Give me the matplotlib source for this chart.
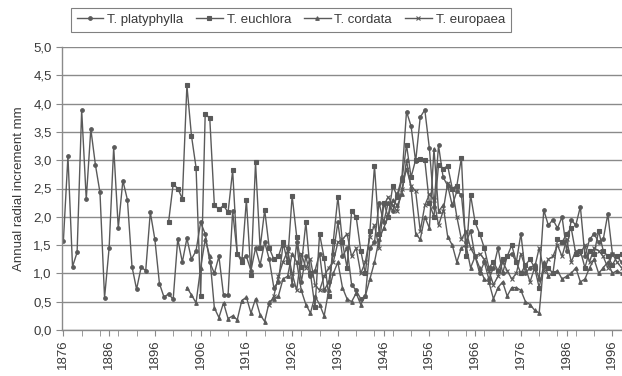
import numpy as np
import matplotlib
matplotlib.use("Agg")
import matplotlib.pyplot as plt
from matplotlib.ticker import FuncFormatter, MultipleLocator

plt.rcParams['font.family'] = ['Liberation Sans', 'DejaVu Sans']

years = list(range(1876, 1999))

# annual radial increment (mm), first year of each record given separately
platyphylla_start = 1876
platyphylla = [
    1.57, 3.07, 1.12, 1.37, 3.89, 2.31, 3.55, 2.92, 2.43, 0.57,
    1.45, 3.23, 1.80, 2.64, 2.30, 1.12, 0.72, 1.11, 1.05, 2.08,
    1.60, 0.82, 0.58, 0.64, 0.54, 1.61, 1.20, 1.62, 1.25, 1.40,
    1.90, 1.70, 1.20, 1.00, 1.30, 0.62, 0.62, 2.10, 1.35, 1.25,
    1.30, 1.05, 1.45, 1.15, 1.55, 1.25, 0.75, 0.85, 1.50, 1.45,
    0.80, 1.55, 0.85, 1.30, 0.95, 1.05, 1.35, 0.70, 0.85, 1.35,
    1.90, 1.30, 1.45, 0.80, 0.70, 0.55, 0.60, 1.45, 1.55, 2.25,
    1.90, 2.25, 2.10, 2.40, 2.70, 3.86, 3.60, 2.98, 3.76, 3.89,
    3.21, 2.18, 3.26, 2.70, 2.55, 2.20, 2.45, 2.39, 1.55, 1.75,
    1.30, 1.00, 1.20, 0.90, 1.10, 1.45, 1.00, 1.30, 1.35, 1.20,
    1.70, 1.00, 1.10, 1.15, 0.90, 2.12, 1.85, 1.95, 1.80, 2.00,
    1.40, 1.95, 1.85, 2.18, 1.30, 1.60, 1.70, 1.55, 1.60, 2.05,
    1.35, 1.30, 1.20,
]

euchlora_start = 1899
euchlora = [
    1.91, 2.58, 2.50, 2.32, 4.32, 3.43, 2.87, 0.60, 3.82, 3.74,
    2.21, 2.13, 2.20, 2.08, 2.82, 1.35, 1.20, 2.30, 0.98, 2.96,
    1.45, 2.12, 1.45, 1.25, 1.30, 1.55, 1.20, 2.37, 1.65, 1.12,
    1.90, 1.00, 0.40, 1.70, 1.27, 0.60, 1.57, 2.35, 1.55, 1.10,
    2.10, 2.00, 1.40, 1.00, 1.75, 2.90, 1.70, 2.25, 2.00, 2.55,
    2.35, 2.65, 3.27, 2.70, 3.01, 3.02, 3.00, 2.24, 2.00, 2.92,
    2.85, 2.90, 2.50, 2.55, 3.04, 1.30, 2.39, 1.90, 1.70, 1.45,
    1.10, 1.20, 1.05, 1.25, 1.30, 1.50, 1.20, 1.00, 1.15, 1.25,
    1.10, 0.75, 1.15, 1.10, 1.00, 1.60, 1.55, 1.70, 1.80, 1.35,
    1.40, 1.10, 1.40, 1.35, 1.75, 1.40, 1.30, 1.15, 1.30, 1.35,
]

cordata_start = 1903
cordata = [
    0.75, 0.62, 0.48, 1.10, 1.60, 1.30, 0.39, 0.22, 0.48, 0.20,
    0.25, 0.18, 0.52, 0.58, 0.30, 0.55, 0.27, 0.15, 0.50, 0.55,
    0.60, 0.90, 0.95, 1.35, 1.20, 0.70, 0.45, 0.30, 0.60, 0.45,
    0.25, 0.70, 1.00, 1.20, 0.75, 0.55, 0.50, 0.65, 0.45, 0.60,
    0.90, 1.20, 1.60, 1.80, 2.00, 2.30, 2.20, 2.40, 3.00, 2.50,
    1.70, 1.60, 2.00, 1.80, 3.20, 2.10, 2.20, 1.65, 1.50, 1.20,
    1.45, 1.50, 1.10, 1.30, 1.10, 0.90, 0.85, 0.55, 0.75, 0.85,
    0.60, 0.75, 0.75, 0.70, 0.50, 0.45, 0.35, 0.30, 1.20, 0.95,
    1.00, 1.05, 0.90, 0.95, 1.00, 1.10, 0.85, 0.90, 1.10, 1.25,
    1.00, 1.10, 1.20, 1.00, 1.05, 1.00,
]

europaea_start = 1921
europaea = [
    0.45, 0.60, 0.95, 1.20, 1.40, 1.00, 0.70, 1.35, 1.10, 1.25,
    0.80, 0.70, 0.95, 1.10, 1.20, 1.55, 1.60, 1.70, 1.30, 1.45,
    1.00, 1.20, 1.65, 1.85, 1.45, 2.20, 2.35, 2.20, 2.10, 2.50,
    2.85, 2.55, 2.45, 1.75, 2.20, 2.40, 2.30, 1.85, 2.10, 2.60,
    2.50, 2.00, 1.60, 1.75, 1.45, 1.30, 1.35, 1.25, 1.05, 0.80,
    0.95, 1.20, 1.05, 0.90, 1.00, 1.35, 1.10, 0.85, 1.10, 1.45,
    1.05, 1.25, 1.30, 1.50, 1.30, 1.60, 1.20, 1.40, 1.35, 1.50,
    1.20, 1.45, 1.40, 1.30, 1.10, 1.35, 1.20, 1.10,
]

series = [
    ("T. platyphylla", platyphylla_start, platyphylla, "o"),
    ("T. euchlora", euchlora_start, euchlora, "s"),
    ("T. cordata", cordata_start, cordata, "^"),
    ("T. europaea", europaea_start, europaea, "x"),
]

line_col = "#5a5a5a"
grid_col = "#8a8a8a"
text_col = "#3a3a3a"

fig = plt.figure(figsize=(6.22, 3.76), dpi=100)
ax = fig.add_axes([62 / 622, 1 - 330 / 376, 1 - 62 / 622, 283 / 376])

for name, start, vals, mk in series:
    xs = np.arange(start, start + len(vals))
    ax.plot(xs, vals, color=line_col, lw=1.0, marker=mk, ms=2.6,
            mew=0.8, mfc=line_col, mec=line_col, label=name)

ax.set_ylim(0, 5)
ax.set_xlim(1875.7, 1998.1)
ax.yaxis.set_major_locator(MultipleLocator(0.5))
ax.yaxis.set_major_formatter(FuncFormatter(lambda v, p: f"{v:.1f}".replace(".", ",")))
ax.set_xticks(years[::10])
ax.set_xticks(np.arange(1876, 1999, 4), minor=True)
ax.tick_params(axis="x", which="major", labelrotation=90, length=4, color=grid_col,
               labelsize=9.5, labelcolor=text_col, pad=3)
ax.tick_params(axis="x", which="minor", length=4, color=grid_col)
ax.tick_params(axis="y", length=4, color=grid_col, labelsize=9.5, labelcolor=text_col)

ax.grid(axis="y", color=grid_col, lw=1.0)
ax.set_axisbelow(True)
for side in ("top", "right"):
    ax.spines[side].set_visible(False)
for side in ("left", "bottom"):
    ax.spines[side].set_color(grid_col)
    ax.spines[side].set_linewidth(1.0)

ax.set_ylabel("Annual radial increment mm", fontsize=9.5, color=text_col, labelpad=6)

leg = fig.legend(loc="upper left", bbox_to_anchor=(64 / 622, 1 - 1 / 376), ncol=4,
                 fontsize=9.5, frameon=True, fancybox=False, handlelength=2.0,
                 handletextpad=0.3, columnspacing=1.0, borderpad=0.45,
                 labelcolor=text_col)
leg.get_frame().set_edgecolor("#606060")
leg.get_frame().set_linewidth(0.8)

fig.savefig("out.png", dpi=100)
